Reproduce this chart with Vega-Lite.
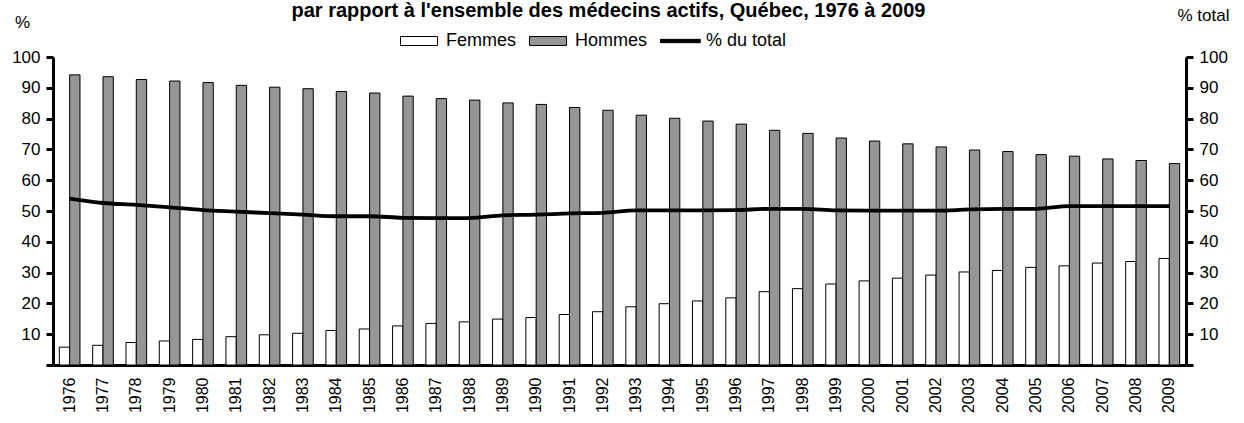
{
  "$schema": "https://vega.github.io/schema/vega-lite/v6.json",
  "width": 1133,
  "height": 308,
  "autosize": {"type": "none"},
  "padding": {"left": 53, "top": 57, "right": 58, "bottom": 58},
  "background": "white",
  "config": {
    "font": "Liberation Sans",
    "view": {"stroke": null},
    "axis": {
      "grid": false,
      "domain": true,
      "domainColor": "black",
      "domainWidth": 3,
      "tickColor": "black",
      "tickWidth": 3,
      "tickSize": 7,
      "labelColor": "black",
      "labelFontSize": 17,
      "titleColor": "black",
      "titleFontSize": 17,
      "titleFontWeight": "normal"
    }
  },
  "title": {
    "text": "par rapport à l'ensemble des médecins actifs, Québec, 1976 à 2009",
    "fontSize": 20,
    "fontWeight": "bold",
    "color": "black",
    "anchor": "middle",
    "baseline": "alphabetic",
    "offset": -31,
    "dx": -11
  },
  "datasets": {
    "bars": [
      {"year": "1976", "serie": "Femmes", "value": 5.8}, {"year": "1976", "serie": "Hommes", "value": 94.2},
      {"year": "1977", "serie": "Femmes", "value": 6.4}, {"year": "1977", "serie": "Hommes", "value": 93.6},
      {"year": "1978", "serie": "Femmes", "value": 7.3}, {"year": "1978", "serie": "Hommes", "value": 92.7},
      {"year": "1979", "serie": "Femmes", "value": 7.8}, {"year": "1979", "serie": "Hommes", "value": 92.2},
      {"year": "1980", "serie": "Femmes", "value": 8.3}, {"year": "1980", "serie": "Hommes", "value": 91.7},
      {"year": "1981", "serie": "Femmes", "value": 9.2}, {"year": "1981", "serie": "Hommes", "value": 90.8},
      {"year": "1982", "serie": "Femmes", "value": 9.8}, {"year": "1982", "serie": "Hommes", "value": 90.2},
      {"year": "1983", "serie": "Femmes", "value": 10.3}, {"year": "1983", "serie": "Hommes", "value": 89.7},
      {"year": "1984", "serie": "Femmes", "value": 11.2}, {"year": "1984", "serie": "Hommes", "value": 88.8},
      {"year": "1985", "serie": "Femmes", "value": 11.7}, {"year": "1985", "serie": "Hommes", "value": 88.3},
      {"year": "1986", "serie": "Femmes", "value": 12.7}, {"year": "1986", "serie": "Hommes", "value": 87.3},
      {"year": "1987", "serie": "Femmes", "value": 13.5}, {"year": "1987", "serie": "Hommes", "value": 86.5},
      {"year": "1988", "serie": "Femmes", "value": 14.0}, {"year": "1988", "serie": "Hommes", "value": 86.0},
      {"year": "1989", "serie": "Femmes", "value": 14.9}, {"year": "1989", "serie": "Hommes", "value": 85.1},
      {"year": "1990", "serie": "Femmes", "value": 15.4}, {"year": "1990", "serie": "Hommes", "value": 84.6},
      {"year": "1991", "serie": "Femmes", "value": 16.4}, {"year": "1991", "serie": "Hommes", "value": 83.6},
      {"year": "1992", "serie": "Femmes", "value": 17.3}, {"year": "1992", "serie": "Hommes", "value": 82.7},
      {"year": "1993", "serie": "Femmes", "value": 18.9}, {"year": "1993", "serie": "Hommes", "value": 81.1},
      {"year": "1994", "serie": "Femmes", "value": 19.9}, {"year": "1994", "serie": "Hommes", "value": 80.1},
      {"year": "1995", "serie": "Femmes", "value": 20.8}, {"year": "1995", "serie": "Hommes", "value": 79.2},
      {"year": "1996", "serie": "Femmes", "value": 21.8}, {"year": "1996", "serie": "Hommes", "value": 78.2},
      {"year": "1997", "serie": "Femmes", "value": 23.8}, {"year": "1997", "serie": "Hommes", "value": 76.2},
      {"year": "1998", "serie": "Femmes", "value": 24.8}, {"year": "1998", "serie": "Hommes", "value": 75.2},
      {"year": "1999", "serie": "Femmes", "value": 26.3}, {"year": "1999", "serie": "Hommes", "value": 73.7},
      {"year": "2000", "serie": "Femmes", "value": 27.3}, {"year": "2000", "serie": "Hommes", "value": 72.7},
      {"year": "2001", "serie": "Femmes", "value": 28.2}, {"year": "2001", "serie": "Hommes", "value": 71.8},
      {"year": "2002", "serie": "Femmes", "value": 29.2}, {"year": "2002", "serie": "Hommes", "value": 70.8},
      {"year": "2003", "serie": "Femmes", "value": 30.2}, {"year": "2003", "serie": "Hommes", "value": 69.8},
      {"year": "2004", "serie": "Femmes", "value": 30.7}, {"year": "2004", "serie": "Hommes", "value": 69.3},
      {"year": "2005", "serie": "Femmes", "value": 31.7}, {"year": "2005", "serie": "Hommes", "value": 68.3},
      {"year": "2006", "serie": "Femmes", "value": 32.2}, {"year": "2006", "serie": "Hommes", "value": 67.8},
      {"year": "2007", "serie": "Femmes", "value": 33.1}, {"year": "2007", "serie": "Hommes", "value": 66.9},
      {"year": "2008", "serie": "Femmes", "value": 33.6}, {"year": "2008", "serie": "Hommes", "value": 66.4},
      {"year": "2009", "serie": "Femmes", "value": 34.6}, {"year": "2009", "serie": "Hommes", "value": 65.4}
    ],
    "line": [
      {"year": "1976", "serie": "% du total", "value": 54.0},
      {"year": "1977", "serie": "% du total", "value": 52.6},
      {"year": "1978", "serie": "% du total", "value": 52.0},
      {"year": "1979", "serie": "% du total", "value": 51.2},
      {"year": "1980", "serie": "% du total", "value": 50.3},
      {"year": "1981", "serie": "% du total", "value": 49.8},
      {"year": "1982", "serie": "% du total", "value": 49.3},
      {"year": "1983", "serie": "% du total", "value": 48.8},
      {"year": "1984", "serie": "% du total", "value": 48.3},
      {"year": "1985", "serie": "% du total", "value": 48.3},
      {"year": "1986", "serie": "% du total", "value": 47.8},
      {"year": "1987", "serie": "% du total", "value": 47.7},
      {"year": "1988", "serie": "% du total", "value": 47.7},
      {"year": "1989", "serie": "% du total", "value": 48.6},
      {"year": "1990", "serie": "% du total", "value": 48.8},
      {"year": "1991", "serie": "% du total", "value": 49.2},
      {"year": "1992", "serie": "% du total", "value": 49.4},
      {"year": "1993", "serie": "% du total", "value": 50.2},
      {"year": "1994", "serie": "% du total", "value": 50.2},
      {"year": "1995", "serie": "% du total", "value": 50.2},
      {"year": "1996", "serie": "% du total", "value": 50.3},
      {"year": "1997", "serie": "% du total", "value": 50.7},
      {"year": "1998", "serie": "% du total", "value": 50.7},
      {"year": "1999", "serie": "% du total", "value": 50.2},
      {"year": "2000", "serie": "% du total", "value": 50.1},
      {"year": "2001", "serie": "% du total", "value": 50.1},
      {"year": "2002", "serie": "% du total", "value": 50.1},
      {"year": "2003", "serie": "% du total", "value": 50.5},
      {"year": "2004", "serie": "% du total", "value": 50.7},
      {"year": "2005", "serie": "% du total", "value": 50.7},
      {"year": "2006", "serie": "% du total", "value": 51.6},
      {"year": "2007", "serie": "% du total", "value": 51.6},
      {"year": "2008", "serie": "% du total", "value": 51.6},
      {"year": "2009", "serie": "% du total", "value": 51.6}
    ]
  },
  "layer": [
    {
      "data": {"name": "bars"},
      "mark": {"type": "bar", "stroke": "black", "strokeWidth": 1, "opacity": 1},
      "encoding": {
        "x": {
          "field": "year",
          "type": "ordinal",
          "scale": {"paddingInner": 0.38, "paddingOuter": 0.19},
          "axis": {
            "title": null,
            "domain": true,
            "domainWidth": 3,
            "ticks": false,
            "labelAngle": -90,
            "labelAlign": "right",
            "labelBaseline": "middle",
            "labelPadding": 12,
            "labelFontSize": 16
          }
        },
        "xOffset": {"field": "serie", "type": "nominal", "scale": {"domain": ["Femmes", "Hommes"]}},
        "y": {
          "field": "value",
          "type": "quantitative",
          "scale": {"domain": [0, 100], "nice": false},
          "axis": {
            "orient": "left",
            "domain": true,
            "domainWidth": 3,
            "domainColor": "black",
            "values": [0, 10, 20, 30, 40, 50, 60, 70, 80, 90, 100],
            "labelExpr": "datum.value == 0 ? '' : datum.label",
            "labelPadding": 6,
            "title": "%",
            "titleAngle": 0,
            "titleAlign": "center",
            "titleBaseline": "alphabetic",
            "titleX": -31,
            "titleY": -30
          }
        },
        "color": {
          "field": "serie",
          "type": "nominal",
          "scale": {"domain": ["Femmes", "Hommes", "% du total"], "range": ["white", "#969696", "black"]},
          "legend": {
            "title": null,
            "orient": "none",
            "direction": "horizontal",
            "legendX": 347,
            "legendY": -35,
            "labelFontSize": 18,
            "labelColor": "black",
            "labelOffset": 8,
            "columnPadding": 10,
            "symbolSize": 1369,
            "symbolType": "M-1,-0.243H1V0.243H-1Z",
            "symbolStrokeColor": "black",
            "symbolStrokeWidth": 1,
            "symbolOpacity": 1,
            "encode": {
              "symbols": {
                "update": {
                  "shape": {"signal": "datum.label === '% du total' ? 'M-1,-0.09H1.15V0.09H-1Z' : 'M-1,-0.243H1V0.243H-1Z'"},
                  "stroke": {"value": "black"},
                  "strokeWidth": {"value": 1}
                }
              }
            }
          }
        }
      }
    },
    {
      "data": {"name": "line"},
      "mark": {"type": "line", "color": "black", "strokeWidth": 3.8, "interpolate": "monotone"},
      "encoding": {
        "x": {"field": "year", "type": "ordinal"},
        "y": {
          "field": "value",
          "type": "quantitative",
          "scale": {"domain": [0, 100], "nice": false},
          "axis": {
            "orient": "right",
            "domain": true,
            "domainWidth": 3,
            "domainColor": "black",
            "values": [0, 10, 20, 30, 40, 50, 60, 70, 80, 90, 100],
            "labelExpr": "datum.value == 0 ? '' : datum.label",
            "labelPadding": 6,
            "title": "% total",
            "titleAngle": 0,
            "titleAlign": "center",
            "titleBaseline": "alphabetic",
            "titleX": 17,
            "titleY": -37
          }
        }
      }
    }
  ],
  "resolve": {"scale": {"y": "independent"}}
}
